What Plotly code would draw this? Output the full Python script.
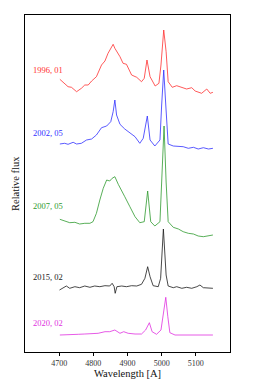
import plotly.graph_objects as go

# Wavelength (Angstrom) and relative flux (with vertical offsets)
w_1996 = [4702, 4726, 4736, 4751, 4765, 4775, 4785, 4795, 4809, 4824, 4834, 4843, 4858, 4863,
          4878, 4887, 4897, 4912, 4927, 4941, 4949, 4957, 4966, 4981, 4992, 4998, 5006, 5013,
          5019, 5031, 5044, 5059, 5073, 5088, 5098, 5117, 5132, 5142, 5150]
f_1996 = [272.7, 265.3, 264.7, 260.3, 263.7, 267, 267, 271, 275.3, 287, 291, 298.7, 307.7, 303.7,
          295.3, 288.7, 287.7, 277, 274.7, 270.3, 273.7, 292, 275.3, 266, 268.7, 287, 322, 300.3,
          270.3, 264.7, 266.3, 264.3, 263, 264.3, 261, 258.7, 263, 258.7, 259.7]

w_2002 = [4702, 4716, 4726, 4741, 4751, 4765, 4780, 4795, 4809, 4824, 4839, 4851, 4858, 4863,
          4868, 4878, 4892, 4907, 4922, 4936, 4946, 4958, 4966, 4980, 4995, 5000, 5006, 5012,
          5019, 5034, 5049, 5063, 5078, 5093, 5107, 5122, 5137, 5150]
f_2002 = [208, 208.7, 207.7, 209.7, 208, 208.7, 212, 213, 217, 224.3, 226, 230.3, 240.3, 252,
          237, 227.7, 223, 218.7, 215.3, 208.7, 213.7, 236, 212, 206, 212, 247, 282, 247,
          208, 206, 205.3, 205.3, 203.7, 204.7, 203, 204.3, 203, 203.7]

w_2007 = [4702, 4716, 4731, 4746, 4760, 4775, 4790, 4799, 4809, 4819, 4829, 4839, 4848, 4855,
          4863, 4873, 4883, 4892, 4907, 4922, 4936, 4949, 4959, 4968, 4980, 4995, 5000, 5007,
          5013, 5019, 5034, 5049, 5063, 5078, 5093, 5107, 5122, 5137, 5150]
f_2007 = [132.7, 131, 129.3, 129.7, 128, 128.7, 128.7, 130.3, 138.7, 152, 163.7, 172, 171, 173.7,
          175.3, 167.7, 160.3, 155.3, 145.3, 135.3, 129.3, 130.3, 161, 130.3, 126, 130.3, 170, 226,
          170, 130.3, 124.7, 123, 120.3, 118.7, 118, 116, 115.3, 116.3, 117]

w_2015 = [4701, 4711, 4721, 4731, 4746, 4760, 4775, 4790, 4804, 4819, 4834, 4848, 4855, 4861,
          4864, 4869, 4883, 4897, 4912, 4927, 4941, 4951, 4959, 4966, 4975, 4990, 4997, 5005,
          5013, 5019, 5034, 5044, 5059, 5073, 5088, 5103, 5112, 5122, 5137, 5150]
f_2015 = [62, 64.3, 66, 63.7, 65.3, 64.3, 66, 64.7, 66, 65.3, 66.3, 66, 68.7, 65.3,
          58.7, 65.3, 66, 65.3, 66.3, 66, 67.7, 73.7, 85.3, 75.3, 66.3, 65.3, 73.7, 123,
          77, 66, 64.3, 65.3, 63.7, 64.7, 63.7, 65.3, 67, 64.3, 64.3, 63.7]

w_2020 = [4702, 4716, 4736, 4756, 4775, 4795, 4814, 4834, 4848, 4863, 4878, 4889, 4902, 4922,
          4941, 4953, 4964, 4972, 4985, 4998, 5006, 5012, 5018, 5024, 5039, 5059, 5078, 5098,
          5117, 5137, 5150]
f_2020 = [17, 17, 17.7, 17.7, 18, 18.7, 18.7, 20.3, 20.3, 22, 18.7, 20.3, 18.7, 18,
          18, 22, 29.3, 20.3, 17.7, 22, 42, 54.7, 35.3, 19.3, 17, 17, 17, 16.3,
          17, 16.3, 17]

labels = ["1996, 01", "2002, 05", "2007, 05", "2015, 02", "2020, 02"]
label_y = [282, 219.3, 146, 74.7, 28.7]
colors = ["#ff3030", "#3030ff", "#2e9a2e", "#1a1a1a", "#e030e0"]
waves = [w_1996, w_2002, w_2007, w_2015, w_2020]
fluxes = [f_1996, f_2002, f_2007, f_2015, f_2020]

tick_vals = [4700, 4800, 4900, 5000, 5100]

SERIF = "Liberation Serif"

fig = go.Figure()
for w, f, c in zip(waves, fluxes, colors):
    fig.add_trace(go.Scatter(x=w, y=f, mode="lines", line=dict(color=c, width=0.8),
                             showlegend=False, hoverinfo="skip"))

for lab, ly, c in zip(labels, label_y, colors):
    fig.add_annotation(x=4620, y=ly, xref="x", yref="y", text=lab, showarrow=False,
                       xanchor="left", yanchor="middle", borderpad=0,
                       font=dict(family=SERIF, size=8.5, color=c))

# axis titles
fig.add_annotation(x=0.5, y=-21 / 337, xref="paper", yref="paper", text="Wavelength [A]",
                   showarrow=False, xanchor="center", yanchor="middle", borderpad=0,
                   font=dict(family=SERIF, size=10.5, color="#111111"))
fig.add_annotation(x=-9.5 / 205, y=0.5, xref="paper", yref="paper", text="Relative flux",
                   showarrow=False, xanchor="center", yanchor="middle", textangle=-90,
                   borderpad=0, font=dict(family=SERIF, size=10.5, color="#111111"))

# page body has an 8px default margin, so the figure is sized to compensate
fig.update_layout(
    width=248, height=376,
    margin=dict(l=17, r=26, t=7, b=32, autoexpand=False),
    paper_bgcolor="white", plot_bgcolor="white",
    font=dict(family=SERIF, color="black"),
    xaxis=dict(range=[4600, 5200], tickvals=tick_vals, ticks="outside", ticklen=3,
               tickwidth=1, tickcolor="black", showgrid=False, zeroline=False,
               showline=True, linecolor="black", linewidth=1, mirror=True, automargin=False,
               tickfont=dict(family=SERIF, size=8, color="#333333")),
    yaxis=dict(range=[0, 337], showticklabels=False, ticks="", showgrid=False,
               zeroline=False, showline=True, linecolor="black", linewidth=1, mirror=True,
               automargin=False),
)

fig.write_html("out.html")
